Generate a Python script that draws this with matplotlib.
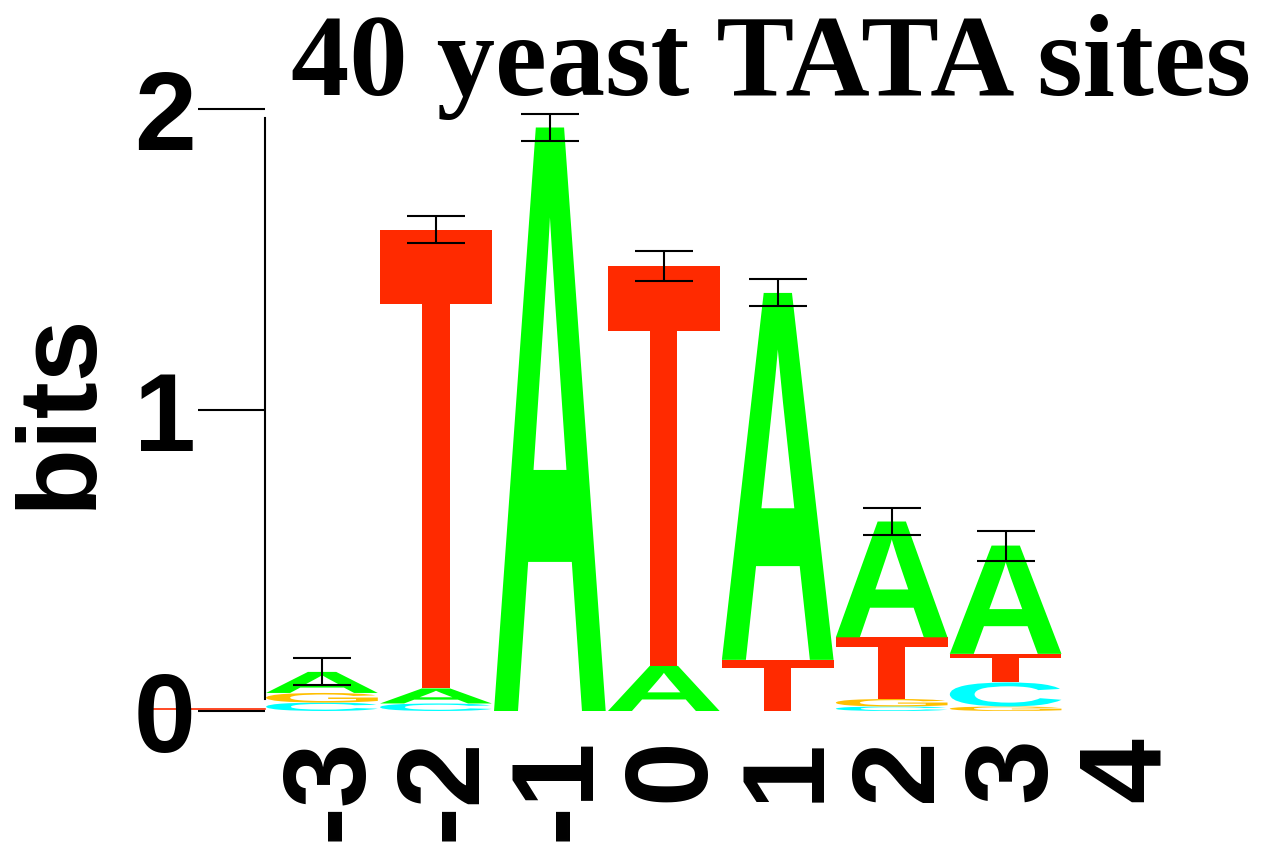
import matplotlib
matplotlib.use('Agg')
import matplotlib.pyplot as plt
from matplotlib.textpath import TextPath
from matplotlib.font_manager import FontProperties
from matplotlib.patches import PathPatch
from matplotlib.transforms import Affine2D, ScaledTranslation

# sequence logo data (bits per letter at each position)
positions = [-3, -2, -1, 0, 1, 2, 3]
tick_positions = [-3, -2, -1, 0, 1, 2, 3, 4]
A = [0.070, 0.050, 1.940, 0.150, 1.220, 0.385, 0.360]
C = [0.028, 0.025, 0.000, 0.000, 0.000, 0.015, 0.080]
G = [0.032, 0.000, 0.000, 0.000, 0.000, 0.025, 0.015]
T = [0.000, 1.525, 0.000, 1.330, 0.170, 0.205, 0.095]
err = [0.045, 0.045, 0.045, 0.050, 0.045, 0.045, 0.050]

colors = {'A': '#00ff00', 'C': '#00ffff', 'G': '#ffbf00', 'T': '#ff2a00'}
fp = FontProperties(family='Liberation Sans', weight='bold')


def draw_letter(ax, ch, x0, y0, w, h, color):
    tp = TextPath((0, 0), ch, size=1, prop=fp)
    ext = tp.get_extents()
    t = (Affine2D().translate(-ext.x0, -ext.y0)
         .scale(w / ext.width, h / ext.height).translate(x0, y0))
    ax.add_patch(PathPatch(t.transform_path(tp), facecolor=color,
                           edgecolor='none', zorder=2))


fig = plt.figure(figsize=(12.62, 8.46), dpi=100)
ax = fig.add_axes([265 / 1262, 135 / 846, 997 / 1262, 662 / 846])
ax.set_xlim(-3.5, 5.25)
ax.set_ylim(0, 2.201)

tops = []
for i, p in enumerate(positions):
    stack = sorted([('A', A[i]), ('C', C[i]), ('G', G[i]), ('T', T[i])],
                   key=lambda s: s[1])
    y = 0.0
    for ch, h in stack:
        if h <= 0:
            continue
        draw_letter(ax, ch, p - 0.49, y, 0.98, h, colors[ch])
        y += h
    tops.append(y)

ax.errorbar(positions, tops, yerr=err, fmt='none', ecolor='black',
            elinewidth=1.5, capsize=21, capthick=1.5, zorder=3)

# stray red baseline through the zero label
ax.plot([-4.51, -3.5], [0.007, 0.007], color='#ff2a00', lw=1.2,
        clip_on=False, zorder=1)

for s in ['top', 'right', 'bottom']:
    ax.spines[s].set_visible(False)
ax.spines['left'].set_linewidth(1.5)
ax.spines['left'].set_bounds(0.04, 1.97)

ax.set_yticks([0, 1, 2])
ax.set_yticklabels(['0', '1', '2'], fontproperties=FontProperties(
    family='Liberation Sans', weight='bold', size=80))
ax.tick_params(axis='y', length=48, width=1.5, pad=24)
for lab in ax.get_yticklabels():
    lab.set_horizontalalignment('center')

ax.set_xticks(tick_positions)
ax.set_xticklabels([str(p) for p in tick_positions], rotation=90,
                   fontproperties=FontProperties(family='Liberation Sans',
                                                 weight='bold', size=84))
ax.tick_params(axis='x', length=0, pad=19)
shift = ScaledTranslation(9 / 100, 0, fig.dpi_scale_trans)
for lab in ax.get_xticklabels():
    lab.set_transform(lab.get_transform() + shift)

fig.text(61 / 1262, 1 - 410 / 846, 'bits', rotation=90, fontsize=80,
         fontweight='bold', family='Liberation Sans', ha='center', va='center')
fig.text(771 / 1262, 1 - 95 / 846, '40 yeast TATA sites', fontsize=84,
         fontweight='bold', family='Liberation Serif', ha='center',
         va='baseline')

fig.savefig('out.png', dpi=100)
